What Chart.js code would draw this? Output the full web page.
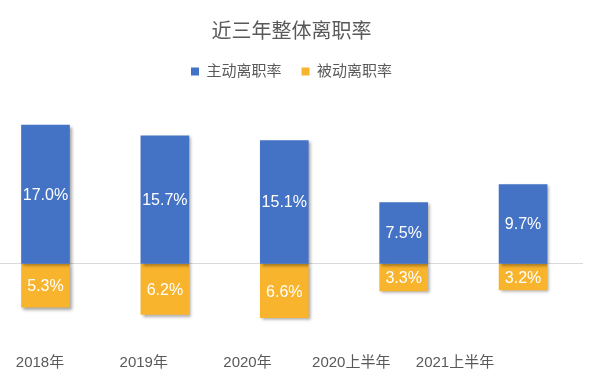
<!DOCTYPE html>
<html>
<head>
<meta charset="utf-8">
<script src="https://cdn.jsdelivr.net/npm/chart.js@4/dist/chart.umd.min.js"></script>
<style>
  html, body { margin: 0; padding: 0; background: #fff; }
  #wrap { width: 600px; height: 385px; }
</style>
</head>
<body>
<div id="wrap"><canvas id="rateChart" width="600" height="385"></canvas></div>
<script>
const categories = ['2018年', '2019年', '2020年', '2020上半年', '2021上半年'];
const activeRate = [17.0, 15.7, 15.1, 7.5, 9.7];   // 主动离职率
const passiveRate = [5.3, 6.2, 6.6, 3.3, 3.2];    // 被动离职率

const FONT = "'Liberation Sans', 'Noto Sans CJK SC', sans-serif";
const TEXT = '#595959';

// soft drop shadow behind the bars
const shadowPlugin = {
    id: 'barShadow',
    beforeDatasetsDraw(chart) {
        const ctx = chart.ctx;
        ctx.save();
        ctx.shadowColor = 'rgba(0, 0, 0, 0.35)';
        ctx.shadowBlur = 3;
        ctx.shadowOffsetX = 2;
        ctx.shadowOffsetY = 2;
    },
    afterDatasetsDraw(chart) {
        chart.ctx.restore();
    }
};

// white value labels centred in each bar
const valueLabels = {
    id: 'valueLabels',
    afterDraw(chart) {
        const ctx = chart.ctx;
        ctx.save();
        ctx.font = '16px ' + FONT;
        ctx.fillStyle = '#ffffff';
        ctx.textAlign = 'center';
        ctx.textBaseline = 'middle';
        chart.data.datasets.forEach((ds, di) => {
            chart.getDatasetMeta(di).data.forEach((bar, i) => {
                const v = Math.abs(ds.data[i].y);
                ctx.fillText(v.toFixed(1) + '%', bar.x, (bar.y + bar.base) / 2 + 1);
            });
        });
        ctx.restore();
    }
};

new Chart(document.getElementById('rateChart').getContext('2d'), {
    type: 'bar',
    data: {
        datasets: [{
            label: '主动离职率',
            data: activeRate.map((v, i) => ({ x: i, y: v })),
            backgroundColor: '#4472C4',
            barThickness: 48,
            xAxisID: 'x',
            stack: 's'
        }, {
            label: '被动离职率',
            data: passiveRate.map((v, i) => ({ x: i, y: -v })),
            backgroundColor: '#F9B42D',
            barThickness: 48,
            xAxisID: 'x',
            stack: 's'
        }]
    },
    options: {
        responsive: false,
        animation: false,
        layout: { padding: { left: 0, right: 17, top: 0, bottom: -1 } },
        plugins: {
            title: {
                display: true,
                text: '近三年整体离职率',
                color: TEXT,
                font: { size: 20, family: FONT, weight: 'normal' },
                padding: { top: 20, bottom: 0 }
            },
            legend: {
                position: 'top',
                labels: {
                    boxWidth: 8,
                    boxHeight: 8,
                    color: TEXT,
                    padding: 20,
                    font: { size: 15, family: FONT }
                }
            },
            tooltip: { enabled: false }
        },
        scales: {
            x: {
                type: 'linear',
                display: false,
                offset: false,
                stacked: true,
                min: -0.381,
                max: 4.502
            },
            xLabels: {
                type: 'linear',
                position: 'bottom',
                offset: false,
                min: -0.3855,
                max: 5.234,
                grid: { display: false },
                border: { display: false },
                ticks: {
                    stepSize: 1,
                    includeBounds: false,
                    autoSkip: false,
                    maxRotation: 0,
                    color: TEXT,
                    font: { size: 15, family: FONT },
                    padding: 14,
                    callback: function(value) {
                        return Number.isInteger(value) && categories[value] ? categories[value] : '';
                    }
                }
            },
            y: {
                stacked: true,
                min: -8.34,
                max: 21.42,
                ticks: { display: false },
                border: { display: false },
                grid: {
                    drawTicks: false,
                    color: (c) => c.tick && c.tick.value === 0 ? '#d9d9d9' : 'rgba(0,0,0,0)'
                }
            }
        }
    },
    plugins: [shadowPlugin, valueLabels]
});
</script>
</body>
</html>
